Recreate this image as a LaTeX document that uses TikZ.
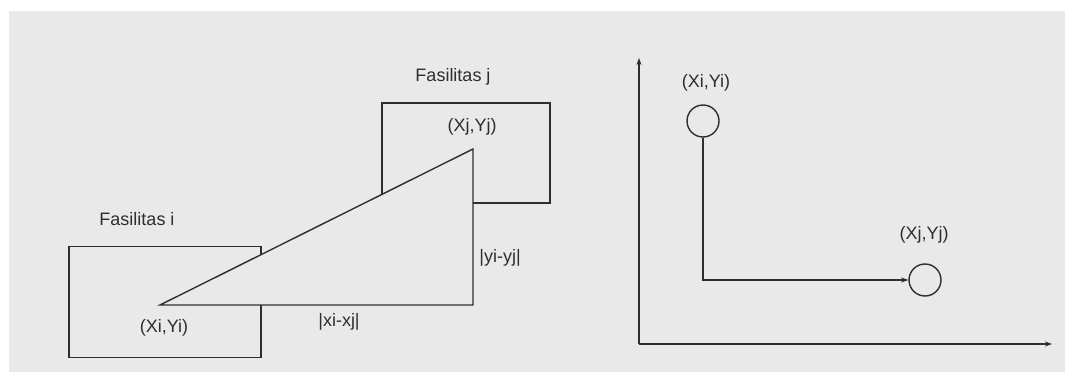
\documentclass[tikz,border=0pt]{standalone}
\usepackage{fontspec}
\setmainfont{Liberation Sans}
\usetikzlibrary{arrows.meta}
\definecolor{bg}{HTML}{E9E9E9}
\definecolor{ink}{HTML}{2E2E2E}
\begin{document}
\begin{tikzpicture}[x=1pt,y=-1pt,
  ln/.style={draw=ink,line width=1.4pt},
  lbl/.style={text=ink,font=\fontsize{18}{20}\selectfont,inner sep=0pt},
  facility/.style={ln,rectangle,inner sep=0pt},
  pt/.style={ln,circle,minimum size=32pt,inner sep=0pt},
  axis/.style={ln,-{Stealth[length=7pt,width=5pt]}},
  conn/.style={ln,-{Stealth[length=7pt,width=5pt]}}]
\useasboundingbox (0,0) rectangle (1065,372);
\fill[white] (0,0) rectangle (1065,372);
\fill[bg] (9,11) rectangle (1065,372);
% facilities
\node[facility,minimum width=192pt,minimum height=111pt] (fi) at (165,302) {};
\node[facility,minimum width=168pt,minimum height=100pt] (fj) at (466,153) {};
% triangle
\coordinate (A) at (160,305);
\coordinate (B) at (473,149);
\coordinate (C) at (473,305);
\filldraw[ln,fill=bg,line join=miter] (A) -- (B) -- (C) -- cycle;
% labels
\node[lbl] (lfi) at (137,219) {Fasilitas i};
\node[lbl] (lfj) at (453,77) {Fasilitas j};
\node[lbl] (lxi) at (164,328) {(Xi,Yi)};
\node[lbl] (lxj) at (472,127) {(Xj,Yj)};
\node[lbl] (ldx) at (339,322) {|xi-xj|};
\node[lbl] (ldy) at (500,258) {|yi-yj|};
% right diagram
\coordinate (O) at (639,344);
\coordinate (Yend) at (639,58);
\coordinate (Xend) at (1052,344);
\draw[axis] (O) -- (Yend);
\draw[axis] (O) -- (Xend);
\node[pt] (c1) at (703,121) {};
\node[pt] (c2) at (925,280) {};
\node[lbl] (l1) at (706,83) {(Xi,Yi)};
\node[lbl] (l2) at (924,235) {(Xj,Yj)};
\draw[conn] (c1.south) |- (c2.west);
\end{tikzpicture}
\end{document}
